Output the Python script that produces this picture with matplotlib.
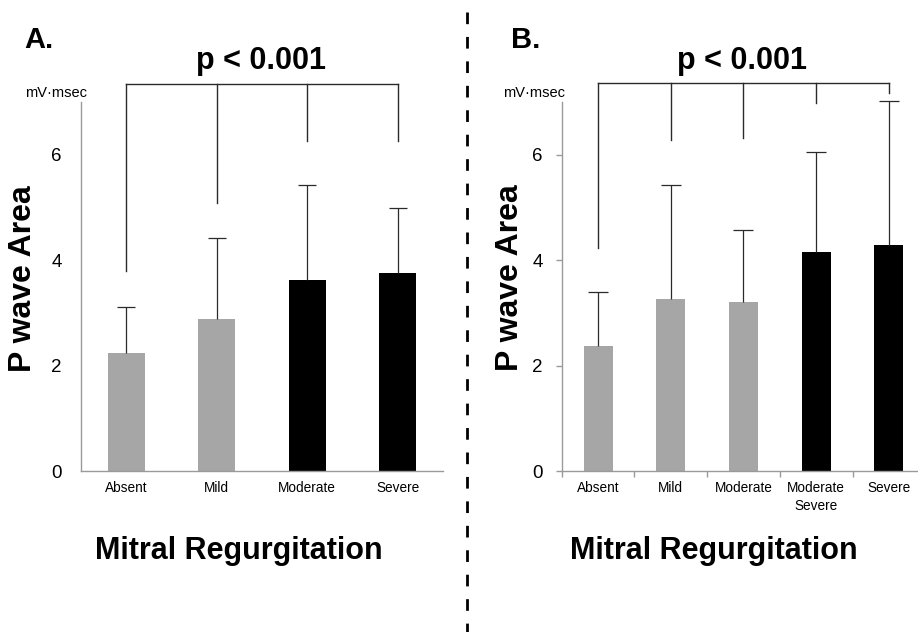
import matplotlib
matplotlib.use("Agg")
import matplotlib.pyplot as plt
from matplotlib.lines import Line2D
import numpy as np

plt.rcParams['font.family'] = ['Liberation Sans', 'DejaVu Sans']

# ---------------- data ----------------
cats_A = ["Absent", "Mild", "Moderate", "Severe"]
mean_A = [2.23, 2.88, 3.62, 3.75]
sd_A = [0.89, 1.54, 1.81, 1.23]
colors_A = ["#a6a6a6", "#a6a6a6", "#000000", "#000000"]
bracket_top_A = 7.34
bracket_drop_A = [3.80, 5.08, 6.26, 6.26]

cats_B = ["Absent", "Mild", "Moderate", "Moderate\nSevere", "Severe"]
mean_B = [2.37, 3.26, 3.21, 4.16, 4.29]
sd_B = [1.03, 2.17, 1.36, 1.89, 2.72]
colors_B = ["#a6a6a6", "#a6a6a6", "#a6a6a6", "#000000", "#000000"]
bracket_top_B = 7.36
bracket_drop_B = [4.23, 6.28, 6.31, 6.98, 7.17]

yticks = [0, 2, 4, 6]
ylim = (0, 7)
pvalue_text = "p < 0.001"
unit_text = "mV\u00b7msec"
ylabel_text = "P wave Area"
xlabel_text = "Mitral Regurgitation"

W, H = 918, 632
fig = plt.figure(figsize=(W / 100, H / 100), dpi=100)


def fx(px):
    return px / W


def fy(py):
    return 1 - py / H


AXIS_GRAY = "#9a9a9a"
LINE_DARK = "#2a2a2a"


def make_panel(left_px, width_px, cats, means, sds, colors, bw, capsize,
               btop, bdrops, boundary_ticks, ytick_len):
    bottom_px, top_px = 471, 102
    ax = fig.add_axes([fx(left_px), fy(bottom_px), fx(width_px),
                       (bottom_px - top_px) / H])
    x = np.arange(len(cats))
    means = np.asarray(means)
    sds = np.asarray(sds)
    ax.bar(x, means, width=bw, color=colors, zorder=2)
    # upper-only error bars with a cap at the top only
    ax.errorbar(x, means, yerr=[np.zeros(len(sds)), sds], fmt='none',
                ecolor=LINE_DARK, elinewidth=0.9, capsize=0, zorder=3,
                clip_on=False)
    ax.plot(x, means + sds, linestyle='none', marker='_',
            markersize=2 * capsize, markeredgewidth=0.9, color=LINE_DARK,
            zorder=3, clip_on=False)
    ax.set_xlim(-0.5, len(cats) - 0.5)
    ax.set_ylim(*ylim)
    for s in ["top", "right"]:
        ax.spines[s].set_visible(False)
    for s in ["left", "bottom"]:
        ax.spines[s].set_color(AXIS_GRAY)
        ax.spines[s].set_linewidth(1.0)
    ax.set_yticks(yticks)
    ax.set_yticklabels([str(t) for t in yticks], fontsize=13.5)
    if ytick_len > 0:
        ax.tick_params(axis='y', length=ytick_len, width=1.0, color=AXIS_GRAY,
                       pad=9.4)
    else:
        ax.tick_params(axis='y', length=0, pad=13.7)
    ax.set_xticks(x)
    ax.set_xticklabels(cats, fontsize=9.8, linespacing=1.35)
    ax.tick_params(axis='x', which='major', length=0, pad=7.5)
    if boundary_ticks:
        ax.set_xticks(np.arange(-0.5, len(cats) - 0.5, 1.0), minor=True)
        ax.tick_params(axis='x', which='minor', length=4.3, width=1.0,
                       color=AXIS_GRAY)
    # significance bracket
    ax.plot([x[0], x[-1]], [btop, btop], color=LINE_DARK, lw=1.0,
            clip_on=False, zorder=4)
    for xi, d in zip(x, bdrops):
        ax.plot([xi, xi], [btop, d], color=LINE_DARK, lw=1.0,
                clip_on=False, zorder=4)
    return ax


axA = make_panel(81, 362, cats_A, mean_A, sd_A, colors_A, 0.41, 6.5,
                 bracket_top_A, bracket_drop_A, False, 0)
axB = make_panel(561.7, 363.5, cats_B, mean_B, sd_B, colors_B, 0.40, 7.2,
                 bracket_top_B, bracket_drop_B, True, 4.3)

# ---------------- texts ----------------
fig.text(fx(24), fy(48), "A.", fontsize=21, fontweight='bold',
         ha='left', va='baseline')
fig.text(fx(511), fy(48), "B.", fontsize=21, fontweight='bold',
         ha='left', va='baseline')
fig.text(fx(261), fy(69), pvalue_text, fontsize=22, fontweight='bold',
         ha='center', va='baseline')
fig.text(fx(742), fy(69), pvalue_text, fontsize=22, fontweight='bold',
         ha='center', va='baseline')
fig.text(fx(25), fy(96.7), unit_text, fontsize=10.5, ha='left',
         va='baseline')
fig.text(fx(503), fy(96.7), unit_text, fontsize=10.5, ha='left',
         va='baseline')
fig.text(fx(23), fy(278.5), ylabel_text, fontsize=23, fontweight='bold',
         rotation=90, ha='center', va='center')
fig.text(fx(509.5), fy(277.5), ylabel_text, fontsize=23, fontweight='bold',
         rotation=90, ha='center', va='center')
fig.text(fx(239), fy(559), xlabel_text, fontsize=22, fontweight='bold',
         ha='center', va='baseline')
fig.text(fx(714), fy(559), xlabel_text, fontsize=22, fontweight='bold',
         ha='center', va='baseline')

# dashed separator
fig.add_artist(Line2D([fx(466.5), fx(466.5)], [fy(12), fy(632)],
                      transform=fig.transFigure, color='black', lw=2.0,
                      dashes=(4.2, 4.6)))

fig.savefig("out.png", dpi=100, facecolor='white')
